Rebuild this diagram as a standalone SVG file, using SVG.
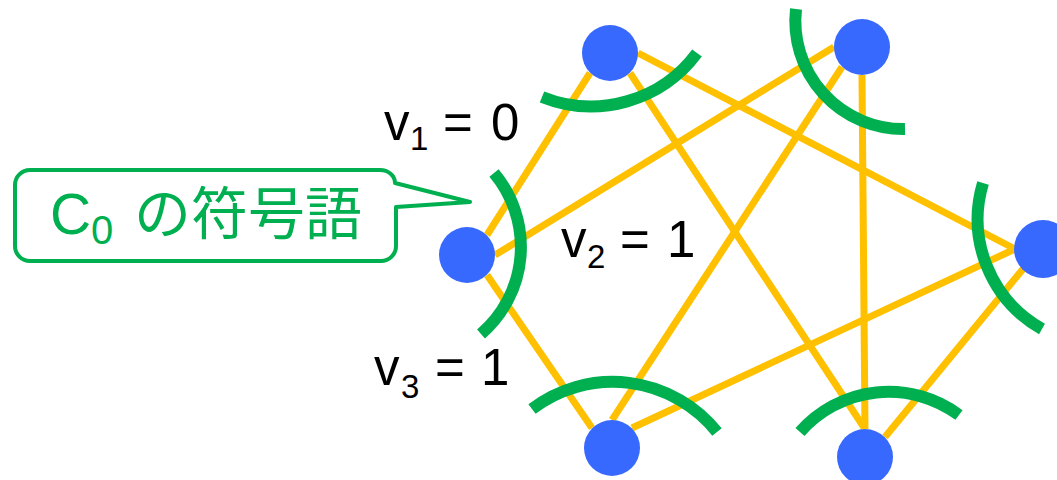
<svg xmlns="http://www.w3.org/2000/svg" width="1057" height="480" viewBox="0 0 1057 480">
<style>
.edge{stroke:#FFC000;stroke-width:7;fill:none}
.node{fill:#3869FF}
.arc{stroke:#00AF50;stroke-width:12;fill:none;stroke-linecap:butt}
.lbl{font-family:"Liberation Sans",Arial,sans-serif;font-size:51px;fill:#000}
.sub{font-size:33px}
.call{fill:#fff;stroke:#00AF50;stroke-width:4;stroke-linejoin:round}
.ct{font-family:"Liberation Sans","Noto Sans CJK JP",sans-serif;font-size:57px;fill:#00AF50}
</style>
<rect width="1057" height="480" fill="#fff"/>
<g id="connectors">
<line class="edge" x1="590" y1="73" x2="487" y2="235"/>
<line class="edge" x1="630" y1="73" x2="865" y2="429"/>
<line class="edge" x1="638" y1="53" x2="1015" y2="249"/>
<line class="edge" x1="834" y1="47" x2="495" y2="255"/>
<line class="edge" x1="842" y1="67" x2="612" y2="420"/>
<line class="edge" x1="862" y1="75" x2="865" y2="429"/>
<line class="edge" x1="487" y1="275" x2="592" y2="428"/>
<line class="edge" x1="1015" y1="249" x2="632" y2="428"/>
<line class="edge" x1="1023" y1="269" x2="885" y2="437"/>
</g>
<g id="nodeA"><circle class="node" cx="610" cy="53" r="28"/></g>
<g id="nodeB"><circle class="node" cx="862" cy="47" r="28"/></g>
<g id="nodeC"><circle class="node" cx="467" cy="255" r="28"/></g>
<g id="nodeD"><circle class="node" cx="1043" cy="249" r="29"/></g>
<g id="nodeE"><circle class="node" cx="612" cy="448" r="28"/></g>
<g id="nodeF"><circle class="node" cx="865" cy="457" r="28"/></g>
<g id="arcs">
<path class="arc" d="M542,97 A132,132 0 0 0 697,53"/>
<path class="arc" d="M796,9 A108,108 0 0 0 905,129"/>
<path class="arc" d="M494,173 A115,115 0 0 1 481,334"/>
<path class="arc" d="M983,183 A126,126 0 0 0 1042,329"/>
<path class="arc" d="M532,409 A133.5,133.5 0 0 1 717,432"/>
<path class="arc" d="M800,432 A118,118 0 0 1 959,415"/>
</g>
<g id="labels">
<text class="lbl" x="384" y="140">v<tspan class="sub" x="410" y="150">1</tspan><tspan x="443" y="140">=</tspan><tspan x="491" y="140">0</tspan></text>
<text class="lbl" x="561" y="257">v<tspan class="sub" x="587" y="268">2</tspan><tspan x="620" y="257">=</tspan><tspan x="667" y="257">1</tspan></text>
<text class="lbl" x="374" y="385">v<tspan class="sub" x="401" y="398">3</tspan><tspan x="435" y="385">=</tspan><tspan x="481" y="385">1</tspan></text>
</g>
<g id="callout">
<path class="call" d="M30,170 H380 A15,13 0 0 1 395,183 L470,202 L396,207 V246 A15,15 0 0 1 381,261 H30 A15,15 0 0 1 15,246 V185 A15,15 0 0 1 30,170 Z"/>
<text class="ct" x="50" y="234">C<tspan font-size="40" x="91" y="244">0</tspan><tspan x="134" y="234">の符号語</tspan></text>
</g>
</svg>
